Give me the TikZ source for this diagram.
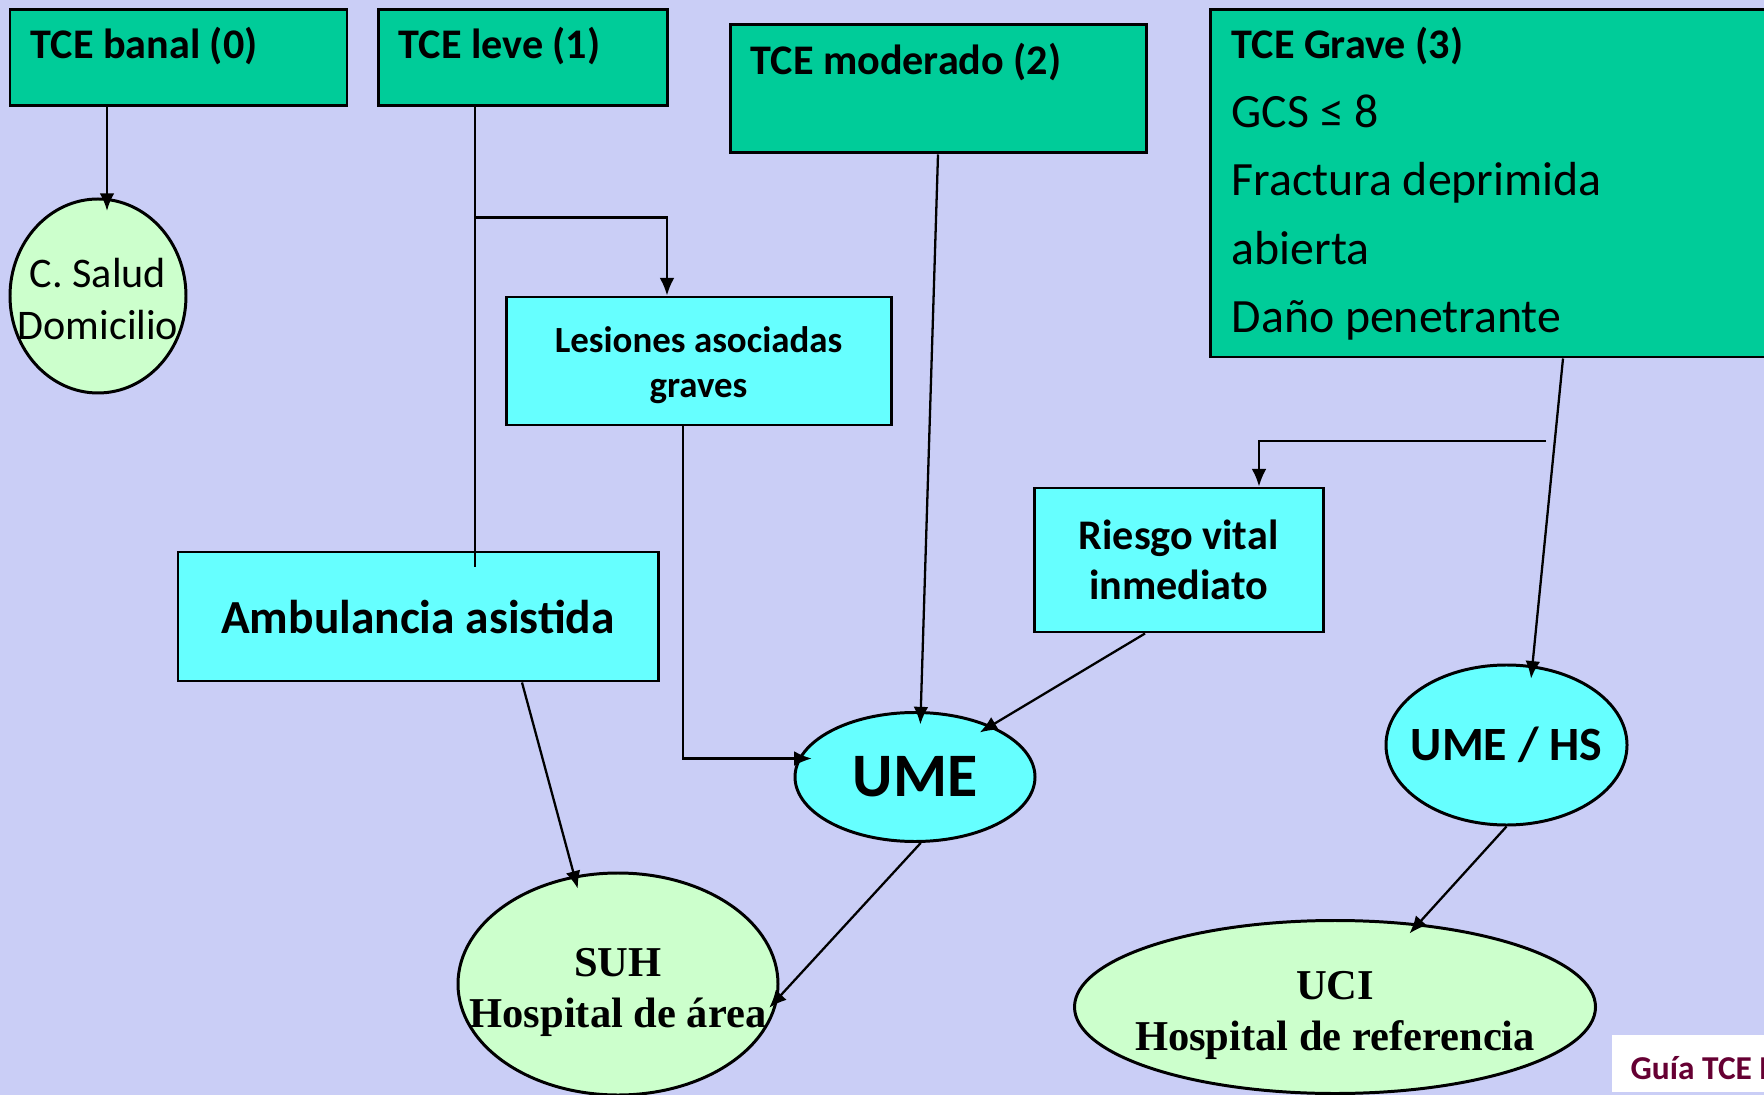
\documentclass[tikz,border=0pt]{standalone}
\usepackage{fontspec}
\setmainfont{Carlito}
\newfontfamily\timesfont{Liberation Serif}
\usepackage{xcolor}
\usetikzlibrary{arrows.meta, shapes.geometric, positioning, calc}
\definecolor{bglav}{RGB}{202,206,246}
\definecolor{tcegreen}{RGB}{0,204,153}
\definecolor{boxcyan}{RGB}{102,255,255}
\definecolor{ovlgreen}{RGB}{204,255,204}
\definecolor{guiared}{RGB}{102,0,51}

\begin{document}
\begin{tikzpicture}[x=1cm, y=-1cm,
  tce/.style={rectangle, draw, line width=0.85pt, fill=tcegreen, inner sep=0pt},
  hdr/.style={anchor=base west, inner sep=0pt,
              font=\fontsize{12}{14}\selectfont\bfseries},
  cbox/.style={rectangle, draw, line width=0.85pt, fill=boxcyan,
               align=center, inner sep=0pt},
  ovl/.style={ellipse, draw, line width=0.85pt, inner sep=0pt},
  otxt/.style={align=center, inner sep=0pt},
  arr/.style={-{Latex[length=5pt,width=4.2pt]}, line width=0.65pt},
  arrin/.style={arr, shorten >=-3.8pt},
  lin/.style={line width=0.65pt}
]

\clip (0,0) rectangle (17.64,10.95);
\fill[bglav] (0,0) rectangle (17.64,10.95);

%% ---- Top row: TCE classes ----
\node[tce, minimum width=3.37cm, minimum height=0.96cm] (banal) at (1.785,0.58) {};
\node[hdr] (banalt) at (0.30,0.59) {TCE banal (0)};
\node[tce, minimum width=2.89cm, minimum height=0.96cm] (leve) at (5.225,0.58) {};
\node[hdr] (levet) at (3.98,0.59) {TCE leve (1)};
\node[tce, minimum width=4.16cm, minimum height=1.28cm] (mod) at (9.38,0.89) {};
\node[hdr] (modt) at (7.50,0.75) {TCE moderado (2)};
\node[tce, minimum width=5.90cm, minimum height=3.47cm] (grave) at (15.05,1.835) {};
\node[anchor=base west, inner sep=0pt, align=left,
      font=\fontsize{13.6}{19.5}\selectfont] (gravet) at (12.31,3.33)
  {{\fontsize{12}{19.5}\selectfont\bfseries TCE Grave (3)}\\GCS ≤ 8\\Fractura deprimida\\abierta\\Daño penetrante};

%% ---- Middle: decisions ----
\node[ovl, fill=ovlgreen, minimum width=1.76cm, minimum height=1.94cm] (salud) at (0.98,2.96) {};
\node[otxt, font=\fontsize{12}{14.8}\selectfont] (saludt) at ([yshift=-0.3mm]salud.center) {C. Salud\\Domicilio};
\node[cbox, minimum width=3.85cm, minimum height=1.28cm] (les) at (6.985,3.61) {};
\node[otxt, font=\fontsize{10.5}{12.8}\selectfont\bfseries] (lest) at ([yshift=-0.4mm]les.center) {Lesiones asociadas\\graves};
\node[cbox, minimum width=2.89cm, minimum height=1.44cm,
      font=\fontsize{12}{14.2}\selectfont\bfseries] (riesgo) at (11.785,5.60) {Riesgo vital\\inmediato};
\node[cbox, minimum width=4.80cm, minimum height=1.29cm,
      font=\fontsize{13.5}{16}\selectfont\bfseries] (amb) at (4.18,6.165) {Ambulancia asistida};

%% ---- Transport / destination ----
\node[ovl, fill=boxcyan, minimum width=2.40cm, minimum height=1.29cm] (ume) at (9.15,7.77) {};
\node[otxt, font=\fontsize{17.6}{20}\selectfont\bfseries] (umet) at (ume) {UME};
\node[ovl, fill=boxcyan, minimum width=2.41cm, minimum height=1.60cm] (umehs) at (15.065,7.45) {};
\node[otxt, font=\fontsize{13.6}{16}\selectfont\bfseries] (umehst) at (umehs) {UME / HS};
\node[ovl, fill=ovlgreen, minimum width=3.20cm, minimum height=2.22cm] (suh) at (6.18,9.84) {};
\node[otxt, font=\timesfont\fontsize{12.1}{14.5}\selectfont\bfseries] (suht) at ([yshift=-0.8mm]suh.center) {SUH\\Hospital de área};
\node[ovl, fill=ovlgreen, minimum width=5.21cm, minimum height=1.73cm] (uci) at (13.35,10.07) {};
\node[otxt, font=\timesfont\fontsize{12.1}{14.5}\selectfont\bfseries] (ucit) at ([yshift=-0.8mm]uci.center) {UCI\\Hospital de referencia};

%% ---- Footer tag ----
\node[fill=white, inner sep=0pt, minimum width=2.0cm, minimum height=0.57cm,
      anchor=north west] (guia) at (16.11,10.34) {};
\node[anchor=base west, inner sep=0pt, text=guiared,
      font=\fontsize{9.5}{11}\selectfont\bfseries] (guiat) at (16.30,10.79) {Guía TCE E};

%% ---- Arrows ----
\draw[arrin] ([xshift=-7.15mm]banal.south) -- ([xshift=-7.15mm]banal.south |- salud.north);

\draw[lin] ([xshift=-4.75mm]leve.south) -- ([xshift=-4.75mm,yshift=-1.6mm]leve.south |- amb.north);
\draw[arr] ([xshift=-4.75mm,yshift=-11mm]leve.south) -| ([xshift=-3.15mm]les.north);

\draw[arrin] ([xshift=-1.55mm]les.south) |- (ume.171);
\draw[arrin] (mod.south) -- (ume.85);
\draw[arrin] ([xshift=-3.35mm]riesgo.south) -- (ume.34);

\coordinate (gfork) at (15.46,4.41);
\draw[arr] (gfork) -| ([xshift=8.05mm]riesgo.north);
\draw[arrin] ([xshift=5.8mm]grave.south) -- (umehs.72);

\draw[arrin] ([xshift=10.4mm]amb.south) -- (suh.112);
\draw[arrin] (ume.-85) -- (suh.-5);
\draw[arrin] (umehs.south) -- (uci.45);

\end{tikzpicture}
\end{document}
